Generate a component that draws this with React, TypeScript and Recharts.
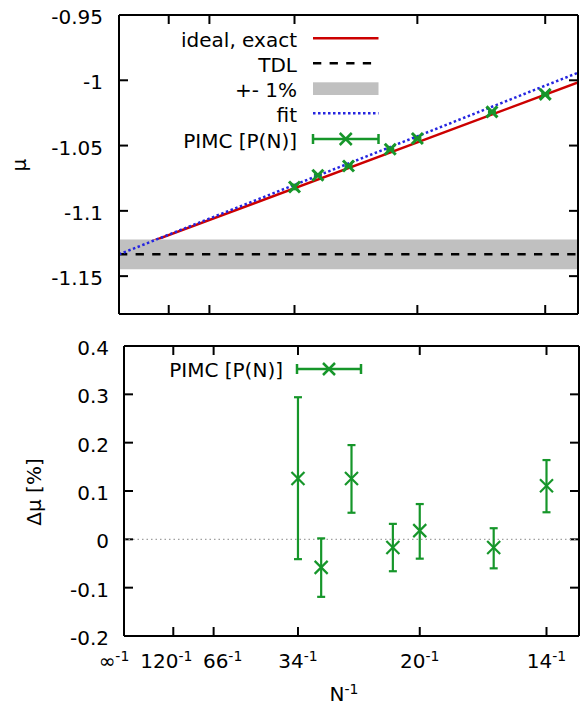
import React from 'react';
import {
  ComposedChart,
  Line,
  Area,
  Scatter,
  ErrorBar,
  XAxis,
  YAxis,
  ReferenceLine,
} from 'recharts';

// system sizes of the PIMC runs (x axis is 1/N)
const sizes = [34, 30, 26, 22, 20, 16, 14];
const muPimc = [-1.0817, -1.0727, -1.0656, -1.0528, -1.0446, -1.0242, -1.0108];
const muPimcErr = [0.0018, 0.0007, 0.0008, 0.0005, 0.0006, 0.0005, 0.0006];

// relative deviation in %, with the ends of the error bars
const dmu = [0.126, -0.058, 0.126, -0.017, 0.018, -0.017, 0.111];
const dmuLow = [-0.041, -0.119, 0.055, -0.066, -0.04, -0.06, 0.056];
const dmuHigh = [0.294, 0.002, 0.195, 0.032, 0.073, 0.023, 0.164];

const muTdl = -1.1333;
const idealInvN = [0, 1 / 13];
const idealMu = [-1.1328, -1.0016];
const fitInvN = [0, 1 / 13];
const fitMu = [-1.1333, -0.9942];

const tickSizes = [Infinity, 120, 66, 34, 20, 14];
const tickNames = ['∞', '120', '66', '34', '20', '14'];
const muTicks = [-1.15, -1.1, -1.05, -1, -0.95];
const dmuTicks = [-0.2, -0.1, 0, 0.1, 0.2, 0.3, 0.4];

const RED = '#cc0000';
const BLUE = '#2525e0';
const GREEN = '#16962a';
const GRAY = '#c0c0c0';
const FONT = '"DejaVu Sans", sans-serif';

const xTicks = tickSizes.map((n) => 1 / n);
const xDomain = [0, 1 / 13];
const muDomain = [-1.179, -0.95];
const dmuDomain = [-0.2, 0.4];

const idealData = idealInvN.map((x, i) => ({ x, y: idealMu[i] }));
const fitData = fitInvN.map((x, i) => ({ x, y: fitMu[i] }));
const tdlData = xDomain.map((x) => ({ x, y: muTdl }));
const bandData = xDomain.map((x) => ({ x, band: [muTdl * 1.01, muTdl * 0.99] }));
const pimcData = sizes.map((n, i) => ({ x: 1 / n, y: muPimc[i], err: muPimcErr[i] }));
const devData = sizes.map((n, i) => ({
  x: 1 / n,
  y: dmu[i],
  err: [dmu[i] - dmuLow[i], dmuHigh[i] - dmu[i]],
}));

// label offsets used in the original plot to keep labels apart
const labelShift: Record<string, number> = { '∞': -10, '120': -7, '66': 9 };

const XLabel = ({ x, payload, at }: any) => {
  const i = xTicks.findIndex((t) => Math.abs(t - payload.value) < 1e-9);
  const name = tickNames[i] ?? '';
  return (
    <text x={x + (labelShift[name] || 0)} y={at + 32} textAnchor="middle" fontSize={20} fill="#000" fontFamily={FONT}>
      {name}
      <tspan dy={-7} fontSize={14}>-1</tspan>
    </text>
  );
};

const YLabel = ({ y, payload, at, gap }: any) => (
  <text x={at - gap} y={y + 9} textAnchor="end" fontSize={20} fill="#000" fontFamily={FONT}>
    {String(payload.value)}
  </text>
);

const NoLabel = () => <g />;

const makeCross = (h: number, sw: number) => (props: any) => {
  const { cx, cy } = props;
  if (cx == null || cy == null) return <g />;
  return (
    <g stroke={GREEN} strokeWidth={sw}>
      <line x1={cx - h} y1={cy - h} x2={cx + h} y2={cy + h} />
      <line x1={cx - h} y1={cy + h} x2={cx + h} y2={cy - h} />
    </g>
  );
};

const axisLine = { stroke: '#000', strokeWidth: 2 };

const LegendCross = ({ x1, x2, y }: { x1: number; x2: number; y: number }) => {
  const c = (x1 + x2) / 2;
  return (
    <g stroke={GREEN} strokeWidth={2.5}>
      <line x1={x1} y1={y} x2={x2} y2={y} />
      <line x1={x1} y1={y - 5} x2={x1} y2={y + 5} />
      <line x1={x2} y1={y - 5} x2={x2} y2={y + 5} />
      <line x1={c - 6} y1={y - 6} x2={c + 6} y2={y + 6} />
      <line x1={c - 6} y1={y + 6} x2={c + 6} y2={y - 6} />
    </g>
  );
};

type Box = { top: number; bottom: number; left: number; right: number };

const TICK_PX = 9;

// axes (frame + labels) of one panel; box is the plot area in chart pixels
const panelAxes = (box: Box, yDomain: number[], yTicks: number[], bottomHeight: number, xLabels: boolean, gap: number) => [
  <XAxis
    key="bottom"
    type="number"
    dataKey="x"
    domain={xDomain}
    ticks={xTicks}
    interval={0}
    allowDataOverflow
    height={bottomHeight}
    tickLine={false}
    tick={xLabels ? <XLabel at={box.bottom} /> : <NoLabel />}
    axisLine={axisLine}
  />,
  <XAxis
    key="top"
    xAxisId="top"
    orientation="top"
    type="number"
    dataKey="x"
    domain={xDomain}
    allowDataOverflow
    height={1}
    tickLine={false}
    tick={<NoLabel />}
    axisLine={axisLine}
  />,
  <YAxis
    key="left"
    type="number"
    domain={yDomain}
    ticks={yTicks}
    interval={0}
    allowDataOverflow
    width={box.left}
    tickLine={false}
    tick={<YLabel at={box.left} gap={gap} />}
    axisLine={axisLine}
  />,
  <YAxis
    key="right"
    yAxisId="right"
    orientation="right"
    type="number"
    domain={yDomain}
    allowDataOverflow
    width={1}
    tickLine={false}
    tick={<NoLabel />}
    axisLine={axisLine}
  />,
];

// inward tick marks on all four sides, placed through the chart scales
const panelTicks = (box: Box, yDomain: number[], yTicks: number[]) => {
  const dy = (TICK_PX * (yDomain[1] - yDomain[0])) / (box.bottom - box.top);
  const dx = (TICK_PX * (xDomain[1] - xDomain[0])) / (box.right - box.left);
  const [y0, y1] = yDomain;
  const [x0, x1] = xDomain;
  const seg = (key: string, a: { x: number; y: number }, b: { x: number; y: number }) => (
    <ReferenceLine key={key} segment={[a, b]} stroke="#000" strokeWidth={2} ifOverflow="visible" />
  );
  return [
    ...xTicks.flatMap((t, i) => [
      seg(`xb${i}`, { x: t, y: y0 }, { x: t, y: y0 + dy }),
      seg(`xt${i}`, { x: t, y: y1 }, { x: t, y: y1 - dy }),
    ]),
    ...yTicks.flatMap((t, i) => [
      seg(`yl${i}`, { x: x0, y: t }, { x: x0 + dx, y: t }),
      seg(`yr${i}`, { x: x1, y: t }, { x: x1 - dx, y: t }),
    ]),
  ];
};

const topBox: Box = { top: 15, bottom: 314, left: 119, right: 578 };
const botBox: Box = { top: 16, bottom: 306, left: 124, right: 579 };

export default function App() {
  return (
    <div style={{ position: 'absolute', left: 0, top: 0, width: 580, height: 706, fontFamily: FONT, background: '#fff' }}>
      <div style={{ position: 'absolute', left: 0, top: 0 }}>
        <ComposedChart width={580} height={330} margin={{ top: 14, right: 1, left: 0, bottom: 15 }}>
          {panelAxes(topBox, muDomain, muTicks, 1, false, 16)}
          {panelTicks(topBox, muDomain, muTicks)}
          <Line data={idealData} dataKey="y" type="linear" stroke={RED} strokeWidth={2.5} dot={false} isAnimationActive={false} zIndex={400} />
          <Area data={bandData} dataKey="band" type="linear" fill={GRAY} fillOpacity={1} stroke="none" isAnimationActive={false} zIndex={410} />
          <Line data={tdlData} dataKey="y" type="linear" stroke="#000" strokeWidth={2.5} strokeDasharray="8.3 8.3" dot={false} isAnimationActive={false} zIndex={420} />
          <Line data={fitData} dataKey="y" type="linear" stroke={BLUE} strokeWidth={2.5} strokeDasharray="2.5 2.5" dot={false} isAnimationActive={false} zIndex={430} />
          <Scatter data={pimcData} dataKey="y" shape={makeCross(5.5, 3)} isAnimationActive={false} zIndex={600}>
            <ErrorBar dataKey="err" direction="y" width={4} stroke={GREEN} strokeWidth={2} />
          </Scatter>
        </ComposedChart>
      </div>
      <div style={{ position: 'absolute', left: 0, top: 330 }}>
        <ComposedChart width={580} height={376} margin={{ top: 15, right: 0, left: 0, bottom: 40 }}>
          {panelAxes(botBox, dmuDomain, dmuTicks, 30, true, 15)}
          {panelTicks(botBox, dmuDomain, dmuTicks)}
          <ReferenceLine y={0} stroke="#a0a0a0" strokeWidth={1.2} strokeDasharray="1.5 3" />
          <Scatter data={devData} dataKey="y" shape={makeCross(6.5, 2.2)} isAnimationActive={false}>
            <ErrorBar dataKey="err" direction="y" width={4} stroke={GREEN} strokeWidth={2.2} />
          </Scatter>
        </ComposedChart>
      </div>
      <svg width={580} height={706} style={{ position: 'absolute', left: 0, top: 0, pointerEvents: 'none' }} fontFamily={FONT}>
        <g fontSize={20} fill="#000" textAnchor="end">
          <text x={297} y={47}>ideal, exact</text>
          <text x={297} y={72}>TDL</text>
          <text x={297} y={97}>+- 1%</text>
          <text x={297} y={122}>fit</text>
          <text x={297} y={147.5}>PIMC [P(N)]</text>
          <text x={283} y={377}>PIMC [P(N)]</text>
        </g>
        <line x1={313} y1={38.3} x2={378.5} y2={38.3} stroke={RED} strokeWidth={2.5} />
        <line x1={313} y1={63.3} x2={378.5} y2={63.3} stroke="#000" strokeWidth={2.5} strokeDasharray="8.3 8.3" />
        <rect x={313} y={82.3} width={65.5} height={12.7} fill={GRAY} />
        <line x1={313} y1={113.3} x2={378.5} y2={113.3} stroke={BLUE} strokeWidth={2.5} strokeDasharray="2.5 2.5" />
        <LegendCross x1={313} x2={378.5} y={139} />
        <LegendCross x1={297} x2={361} y={369} />
        <text x={20} y={165} fontSize={20} textAnchor="middle" dominantBaseline="middle" transform="rotate(-90 20 165)">μ</text>
        <text x={35} y={492} fontSize={20} textAnchor="middle" dominantBaseline="middle" transform="rotate(-90 35 492)">Δμ [%]</text>
        <text x={344} y={701} fontSize={20} textAnchor="middle">
          N<tspan dy={-7} fontSize={14}>-1</tspan>
        </text>
      </svg>
    </div>
  );
}
